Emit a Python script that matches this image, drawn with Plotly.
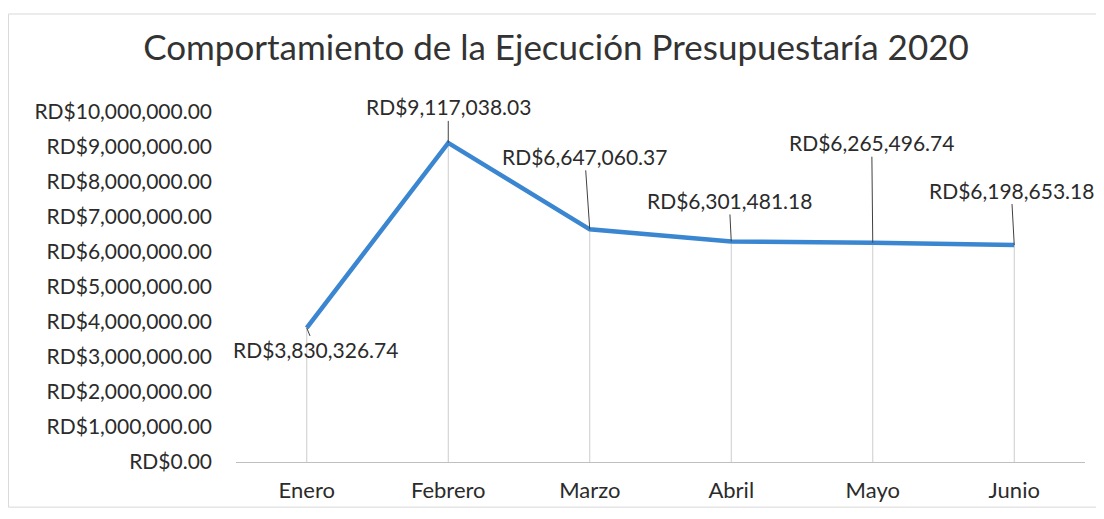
import plotly.graph_objects as go

months = ["Enero", "Febrero", "Marzo", "Abril", "Mayo", "Junio"]
values = [3830326.74, 9117038.03, 6647060.37, 6301481.18, 6265496.74, 6198653.18]
label_text = ["RD$3,830,326.74", "RD$9,117,038.03", "RD$6,647,060.37",
              "RD$6,301,481.18", "RD$6,265,496.74", "RD$6,198,653.18"]
# label offsets (pixels) relative to each point
label_dx = [9, 0, -5, -2, -1, -3]
label_dy = [22, -36, -73, -41, -100, -55]

FONT = "Lato, 'Open Sans', sans-serif"

fig = go.Figure()
fig.add_trace(go.Scatter(
    x=months, y=values, mode="lines",
    line=dict(color="#3b86d1", width=4.5),
    hoverinfo="skip", showlegend=False))

shapes = []
for m, v in zip(months, values):
    shapes.append(dict(type="line", xref="x", yref="y", x0=m, x1=m, y0=0, y1=v,
                       line=dict(color="#cccccc", width=1), layer="below"))
shapes.append(dict(type="rect", xref="paper", yref="paper",
                   x0=-0.268, x1=1.03, y0=-0.129, y1=1.28,
                   line=dict(color="#d9d9d9", width=1)))

annotations = []
for m, v, t, dx, dy in zip(months, values, label_text, label_dx, label_dy):
    annotations.append(dict(
        x=m, y=v, xref="x", yref="y", text=t, showarrow=True,
        ax=dx, ay=dy, arrowhead=0, arrowwidth=1, arrowcolor="#404040",
        standoff=0, startstandoff=0,
        font=dict(family=FONT, size=21, color="#2b2b2b")))

fig.update_layout(
    width=1096, height=511,
    paper_bgcolor="white", plot_bgcolor="white",
    margin=dict(l=228, r=19, t=104, b=57),
    title=dict(text="Comportamiento de la Ejecución Presupuestaría 2020",
               x=0.5, xanchor="center", y=0.922, yanchor="middle",
               font=dict(family=FONT, size=35, color="#333333", weight=400)),
    shapes=shapes, annotations=annotations,
    xaxis=dict(type="category", range=[-0.5, 5.5], showgrid=False,
               showline=True, linecolor="#bfbfbf", linewidth=1,
               ticks="", ticklabelstandoff=9, zeroline=False,
               tickfont=dict(family=FONT, size=22, color="#2b2b2b")),
    yaxis=dict(range=[0, 10000000], dtick=1000000, tick0=0,
               tickprefix="RD$", tickformat=",.2f",
               showgrid=False, zeroline=False, showline=False,
               ticks="", ticklabelstandoff=23,
               tickfont=dict(family=FONT, size=21, color="#2b2b2b")),
)

fig.write_html("out.html")
